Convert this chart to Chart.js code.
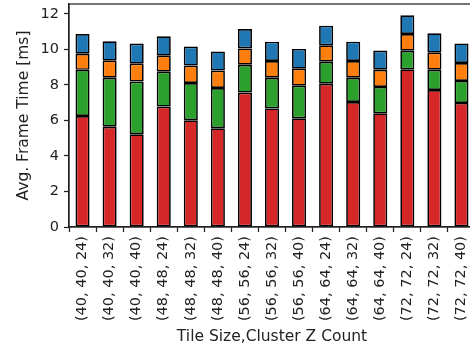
<!DOCTYPE html>
<html>
<head>
<meta charset="utf-8">
<title>Avg. Frame Time</title>
<script src="https://cdn.jsdelivr.net/npm/chart.js@4"></script>
<style>
    html, body { margin: 0; padding: 0; background: #fff; }
    .chart-wrap { width: 470px; height: 349px; overflow: hidden; }
</style>
</head>
<body>
<div class="chart-wrap">
    <canvas id="frameChart" width="476" height="349"></canvas>
</div>
<script>
// Tile size / cluster Z count combinations
const categories = [
    '(40, 40, 24)', '(40, 40, 32)', '(40, 40, 40)',
    '(48, 48, 24)', '(48, 48, 32)', '(48, 48, 40)',
    '(56, 56, 24)', '(56, 56, 32)', '(56, 56, 40)',
    '(64, 64, 24)', '(64, 64, 32)', '(64, 64, 40)',
    '(72, 72, 24)', '(72, 72, 32)', '(72, 72, 40)'
];

// Stack segments in ms, bottom to top
const redValues    = [6.25, 5.65, 5.22, 6.78, 6.01, 5.56, 7.57, 6.68, 6.12, 8.07, 7.04, 6.40, 8.88, 7.72, 6.99];
const greenValues  = [2.60, 2.76, 2.97, 1.97, 2.10, 2.27, 1.57, 1.73, 1.84, 1.24, 1.37, 1.49, 1.05, 1.14, 1.24];
const orangeValues = [0.91, 0.96, 1.01, 0.90, 0.98, 0.98, 0.92, 0.94, 0.96, 0.92, 0.94, 0.97, 0.94, 0.96, 1.01];
const blueValues   = [1.11, 1.09, 1.13, 1.09, 1.08, 1.08, 1.09, 1.09, 1.11, 1.11, 1.09, 1.08, 1.06, 1.09, 1.10];

const yTicks = [0, 2, 4, 6, 8, 10, 12];

document.addEventListener('DOMContentLoaded', function() {
    renderChart();
});

function makeDataset(values, color) {
    return {
        data: values,
        backgroundColor: color,
        borderColor: '#000',
        borderWidth: 1.7,
        borderSkipped: false,
        inflateAmount: 0,
        barPercentage: 0.52,
        categoryPercentage: 1.0
    };
}

// Draws the top/right spines like matplotlib
const framePlugin = {
    id: 'frame',
    afterDraw(chart) {
        const area = chart.chartArea;
        const ctx = chart.ctx;
        ctx.save();
        ctx.strokeStyle = '#222';
        ctx.lineWidth = 1.25;
        ctx.strokeRect(area.left, area.top, area.right - area.left, area.bottom - area.top);
        ctx.restore();
    }
};

function renderChart() {
    const ctx = document.getElementById('frameChart').getContext('2d');
    const tickFont = { family: 'DejaVu Sans', size: 14.5 };
    const titleFont = { family: 'DejaVu Sans', size: 15.5 };

    new Chart(ctx, {
        type: 'bar',
        data: {
            labels: categories,
            datasets: [
                makeDataset(redValues, '#d62728'),
                makeDataset(greenValues, '#2ca02c'),
                makeDataset(orangeValues, '#ff7f0e'),
                makeDataset(blueValues, '#1f77b4')
            ]
        },
        options: {
            responsive: false,
            animation: false,
            devicePixelRatio: 1,
            layout: { padding: { top: 4, right: 1, left: 0, bottom: 0 } },
            plugins: {
                legend: { display: false },
                tooltip: { enabled: false }
            },
            scales: {
                x: {
                    stacked: true,
                    offset: true,
                    border: { display: true, color: '#222', width: 1.25 },
                    grid: { display: true, drawOnChartArea: false, tickLength: 5, tickColor: '#222', tickWidth: 1.25 },
                    ticks: { color: '#222', font: tickFont, minRotation: 90, maxRotation: 90, padding: 4, autoSkip: false },
                    title: { display: true, text: 'Tile Size,Cluster Z Count', color: '#222', font: titleFont, padding: { top: 0, bottom: 3 } },
                    afterFit: function(scale) {
                        scale.height = 122;
                        scale.paddingLeft = 0;
                        scale.paddingRight = 0;
                    }
                },
                y: {
                    stacked: true,
                    min: 0,
                    max: 12.56,
                    border: { display: true, color: '#222', width: 1.25 },
                    grid: { display: true, drawOnChartArea: false, tickLength: 5, tickColor: '#222', tickWidth: 1.25 },
                    afterBuildTicks: function(scale) {
                        scale.ticks = yTicks.map(v => ({ value: v }));
                    },
                    ticks: { color: '#222', font: tickFont, padding: 5 },
                    title: { display: true, text: 'Avg. Frame Time [ms]', color: '#222', font: titleFont, padding: { top: 14.5, bottom: 0 } },
                    afterFit: function(scale) {
                        scale.width = 69;
                        scale.paddingTop = 0;
                        scale.paddingBottom = 0;
                    }
                }
            }
        },
        plugins: [framePlugin]
    });
}
</script>
</body>
</html>
